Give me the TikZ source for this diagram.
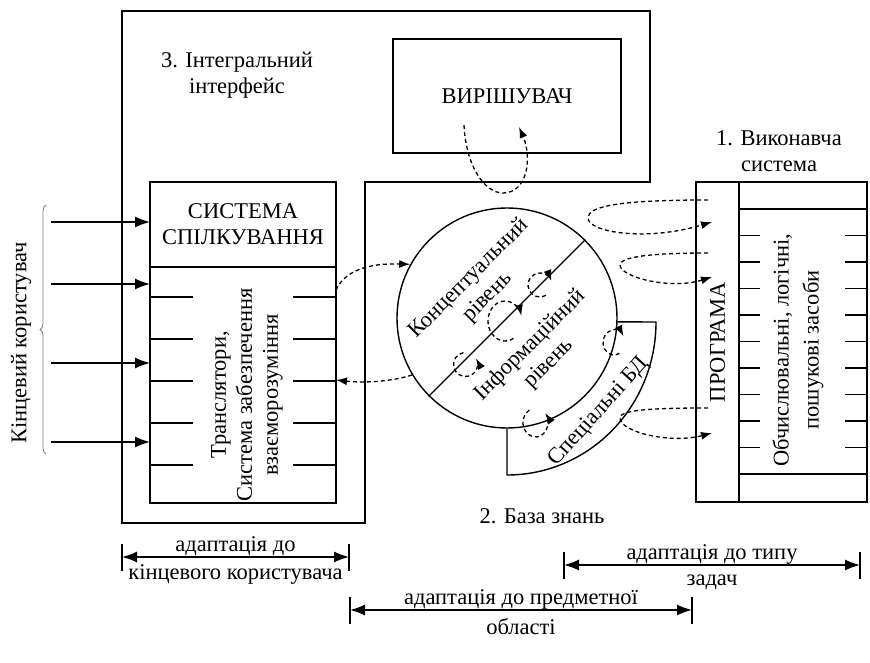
\documentclass[tikz,border=0pt]{standalone}
\usepackage{fontspec}
\setmainfont{Liberation Serif}
\usetikzlibrary{arrows.meta,decorations.pathreplacing,calc}

\tikzset{every picture/.style={line width=1.4pt, x=1pt, y=1pt}}
\tikzset{
  box/.style={draw, rectangle, inner sep=0pt, outer sep=0pt},
  txt/.style={align=center, inner sep=0pt, font=\fontsize{22.5}{26}\selectfont},
  loopy/.style={dash pattern=on 4pt off 3pt, line width=1.3pt,
                -{Latex[length=11pt,width=8pt]}},
  userarrow/.style={-{Latex[length=15pt,width=11pt]}},
  dimarrow/.style={{Latex[length=15pt,width=11pt]}-{Latex[length=15pt,width=11pt]}},
}
\def\r{110} % radius of the knowledge base

\begin{document}
\begin{tikzpicture}
  \useasboundingbox (0,0) rectangle (870,662);
  % integral interface frame
  \draw (122,651) -- (650,651) -- (650,480) -- (365,480) -- (365,139) -- (122,139) -- cycle;
  \node[txt] (iface) at (237,587) {3. Інтегральний\\інтерфейс};
  \node[box, txt, minimum width=228pt, minimum height=114pt] (solver) at (507,566) {ВИРІШУВАЧ};
  % communication system and translators
  \node[box, txt, minimum width=186pt, minimum height=85pt] (comm) at (243,437.5) {СИСТЕМА\\СПІЛКУВАННЯ};
  \node[box, minimum width=186pt, minimum height=236pt] (trans) at (243,277) {};
  \node[txt, rotate=90] (transtext) at (247,267) {Транслятори,\\Система забезпечення\\взаєморозуміння};
  \foreach \k in {0,...,4} {
      \draw (150,{365-42*\k}) -- (193,{365-42*\k});
      \draw (293,{365-42*\k}) -- (336,{365-42*\k});
  };
  % end user
  \foreach \y [count=\i] in {440,378,299,220} {
      \coordinate (u\i) at (51,\y);
      \draw[userarrow] (u\i) -- (u\i -| comm.west);
  };
  \draw[decorate, decoration={brace, amplitude=6pt}, line width=0.8pt, gray] (46,208) -- (46,457);
  \node[txt, rotate=90] (user) at (21,319) {Кінцевий користувач};
  % knowledge base
  \node[circle, draw, minimum size=2*\r pt, inner sep=0pt] (kb) at (507,344) {};
  \draw (kb.225) -- (kb.45);
  \node[txt, rotate=45] (concept) at (478.5,374) {Концептуальний\\рівень};
  \node[txt, rotate=45] (info) at (539.5,307.5) {Інформаційний\\рівень};
  \draw (kb.-2) -- (656,340) arc[start angle=0, end angle=-90, x radius=149, y radius=153] -- (kb.-90);
  \node[txt, rotate=48] (specdb) at (599,250) {Спеціальні БД};
  \node[txt] (kbname) at (542,146) {2. База знань};
  % executive system
  \node[box, txt, rotate=90, minimum width=320pt, minimum height=43pt] (prog) at (717.5,320) {ПРОГРАМА};
  \node[box, minimum width=128pt, minimum height=320pt] (tools) at (803,320) {};
  \draw (739,453) -- (867,453);
  \draw (739,188) -- (867,188);
  \foreach \k in {1,...,9} {
      \draw (739,{453-26.5*\k}) -- (760,{453-26.5*\k});
      \draw (845,{453-26.5*\k}) -- (867,{453-26.5*\k});
  };
  \node[txt, rotate=90, font=\fontsize{22.5}{30}\selectfont] (toolstext) at (798,312) {Обчислювальні, логічні,\\пошукові засоби};
  \node[txt] (exec) at (779,511) {1. Виконавча\\система};
  % dashed loops
  \draw[loopy] (464,537) .. controls (466,495) and (485,469) .. (503,469) .. controls (528,469) and (532,505) .. (519,535);
  \coordinate (t1) at (336,372);
  \draw[loopy] (t1) .. controls (345,392) and (370,399) .. (kb.151);
  \draw[loopy] (kb.211) .. controls (390,280) and (362,279) .. (trans.east |- 0,282);
  \draw[loopy] (540,377) ++(-60:12) arc[start angle=-60, end angle=-340, radius=12];
  \draw[loopy] (505,341) ++(-60:17 and 20) arc[start angle=-60, end angle=-345, x radius=17, y radius=20];
  \draw[loopy] (465.5,297.5) ++(100:12) arc[start angle=100, end angle=390, radius=12];
  \draw[loopy] (614,319.5) ++(-60:11 and 12.5) arc[start angle=-60, end angle=-330, x radius=11, y radius=12.5];
  \draw[loopy] (535.5,239.5) ++(120:12.5 and 14.5) arc[start angle=120, end angle=400, x radius=12.5, y radius=14.5];
  \draw[loopy] (708,462) .. controls (620,462) and (588,456) .. (588,444) .. controls (588,430) and (645,420) .. (712,440);
  \draw[loopy] (708,409) .. controls (650,409) and (620,405) .. (620,397) .. controls (620,385) and (670,372) .. (712,385);
  \draw[loopy] (708,254) .. controls (650,254) and (620,252) .. (620,244) .. controls (620,230) and (670,218) .. (712,229);
  % adaptation ranges
  \foreach \xa/\xb/\ya/\lineA/\lineB [count=\i] in {122/349/105/{адаптація до}/{кінцевого користувача},
      564/860/97/{адаптація до типу}/{задач}, 350/692/52/{адаптація до предметної}/{області}} {
      \coordinate (a\i) at (\xa,\ya);
      \coordinate (b\i) at (\xb,\ya);
      \draw (a\i) ++(0,-14) -- ++(0,27);
      \draw (b\i) ++(0,-14) -- ++(0,27);
      \draw[dimarrow] (a\i) -- (b\i);
      \node[txt] (above\i) at ($(a\i)!0.5!(b\i)+(0,11)$) {\lineA};
      \node[txt] (below\i) at ($(a\i)!0.5!(b\i)+(0,-17)$) {\lineB};
  };
\end{tikzpicture}
\end{document}
